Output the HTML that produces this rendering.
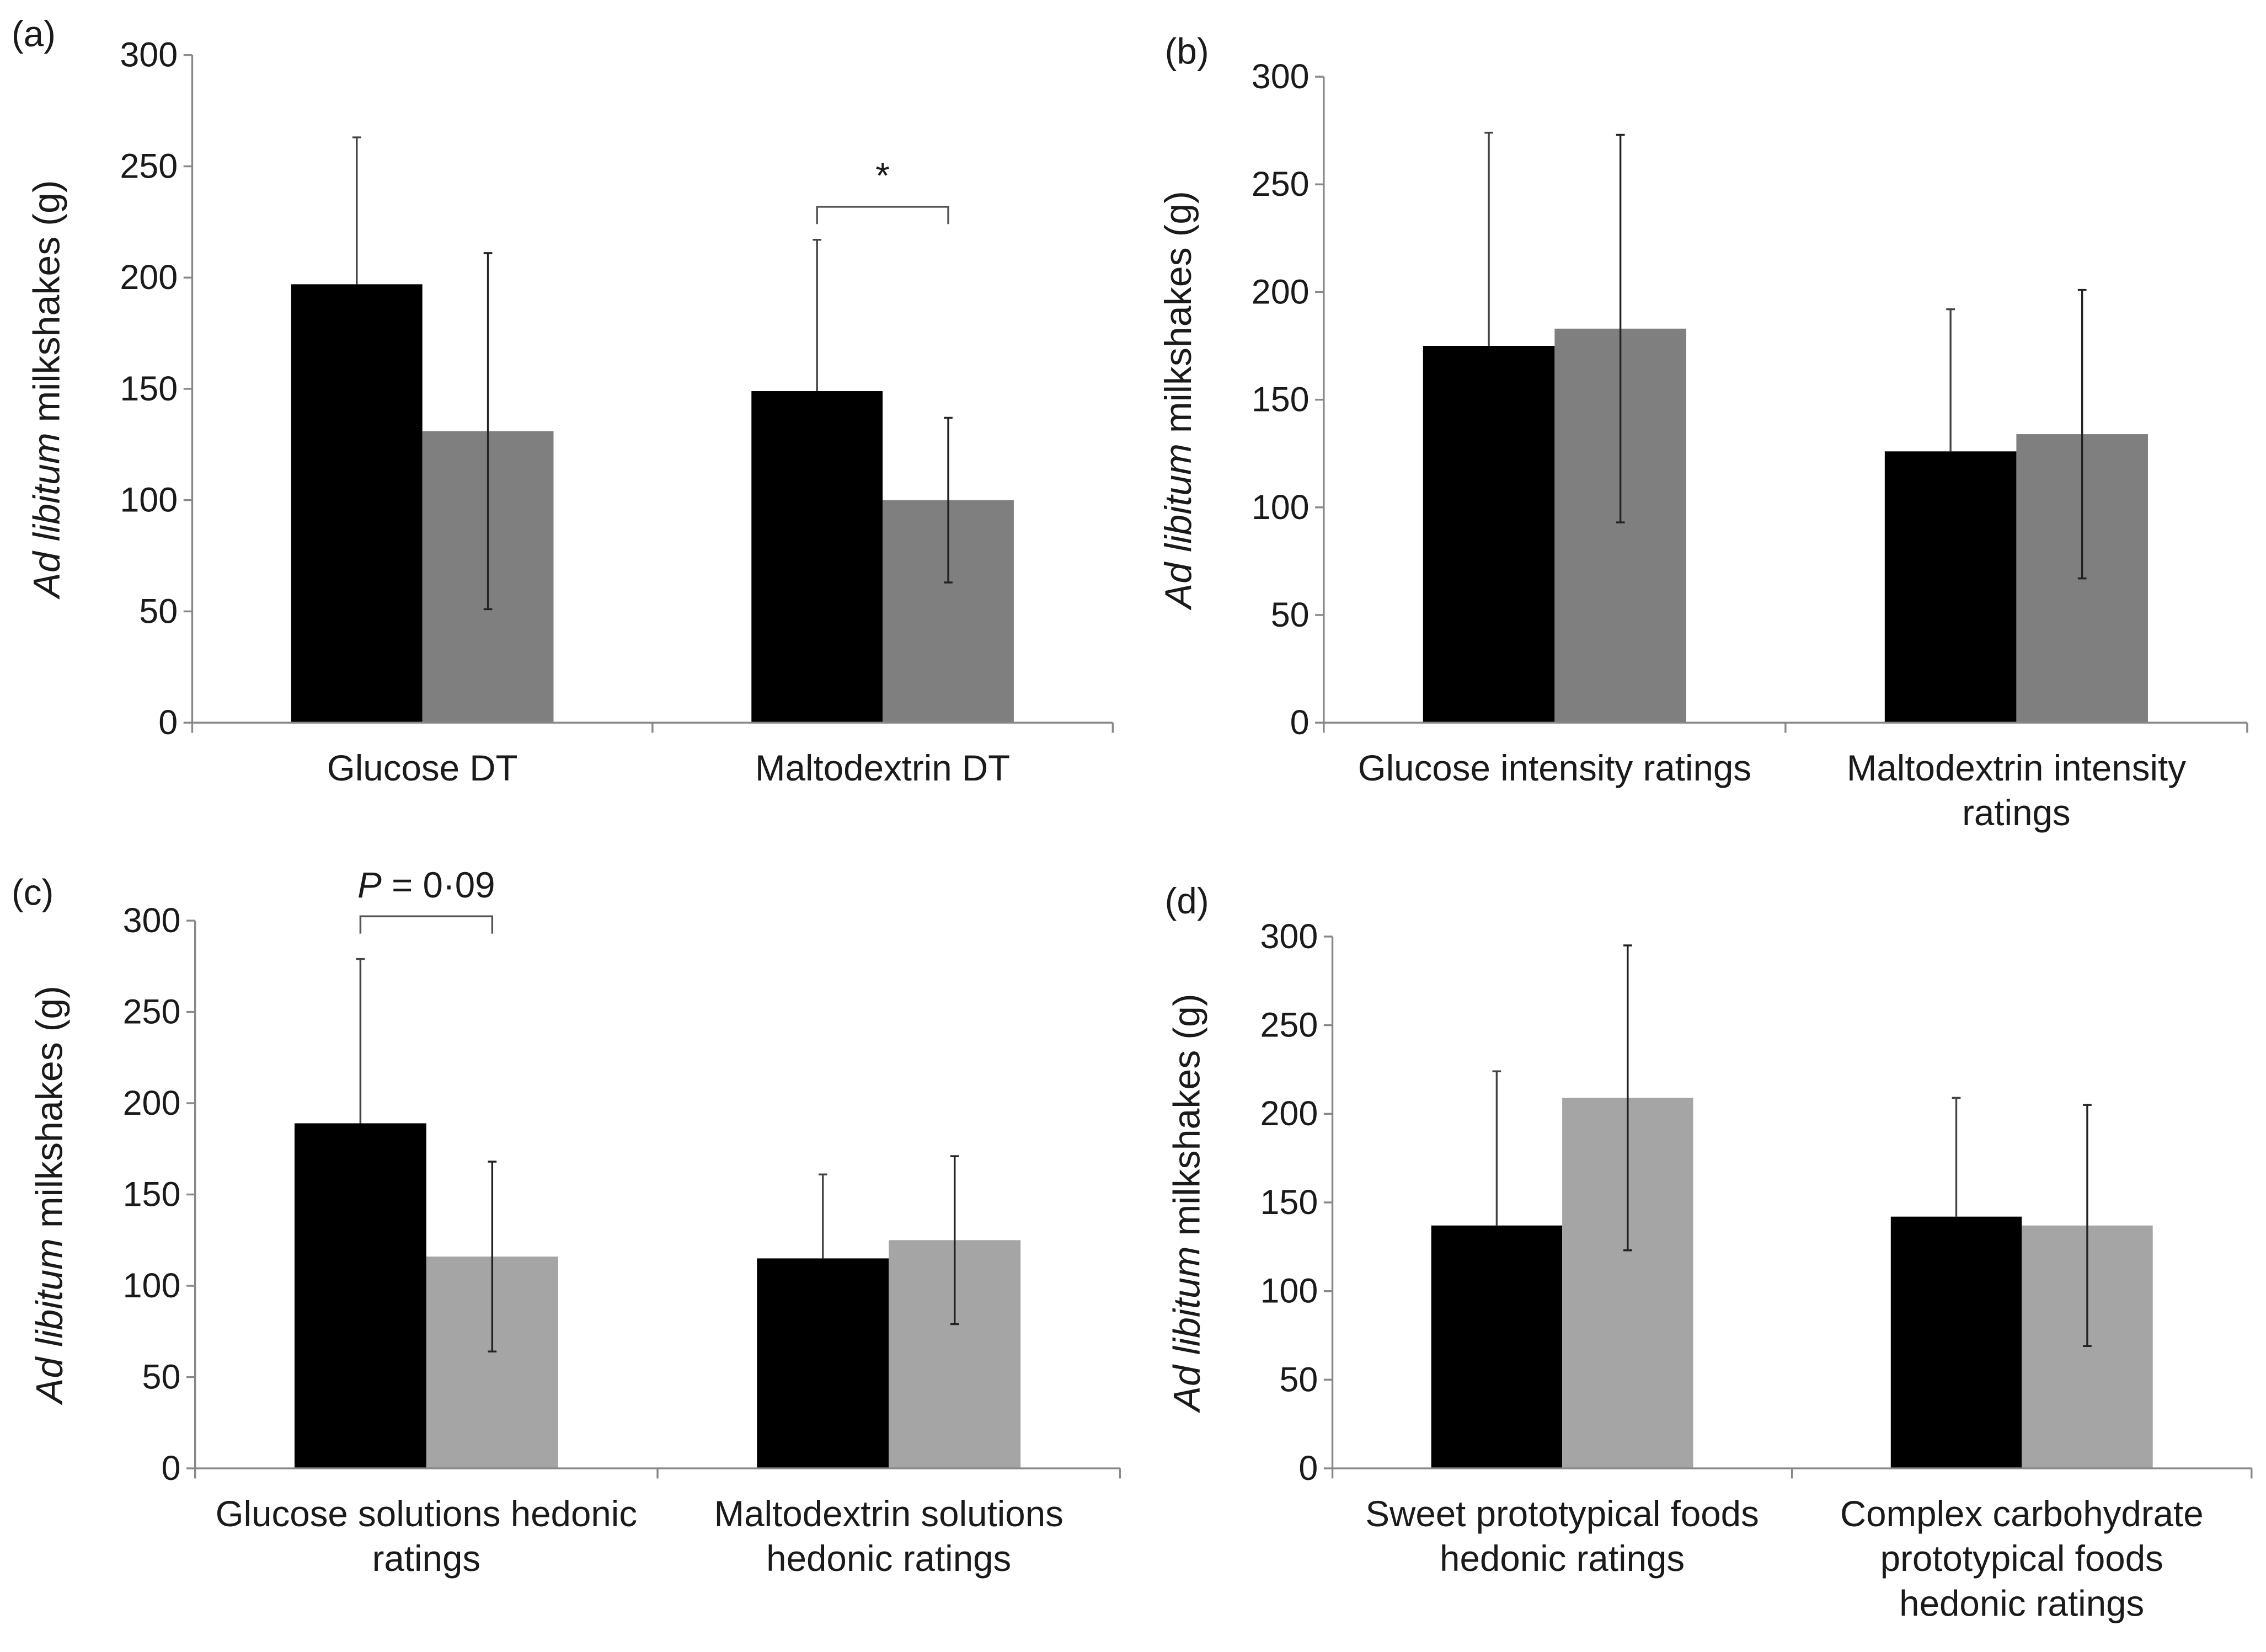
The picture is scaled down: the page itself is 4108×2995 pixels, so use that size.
<!DOCTYPE html>
<html><head><meta charset="utf-8"><style>
html,body{margin:0;padding:0;background:#fff;}
svg{display:block;}
text{font-family:"Liberation Sans",sans-serif;fill:#1a1a1a;}
</style></head><body>
<svg id="fig" width="4108" height="2995" viewBox="0 0 1568 1143" xmlns="http://www.w3.org/2000/svg"></svg>
<script>
const categoriesA = ["Glucose DT", "Maltodextrin DT"];
const blackA = [197, 149];
const blackErrA = [66, 68];
const greyA = [131, 100];
const greyErrA = [80, 37];

const categoriesB = ["Glucose intensity ratings", "Maltodextrin intensity|ratings"];
const blackB = [175, 126];
const blackErrB = [99, 66];
const greyB = [183, 134];
const greyErrB = [90, 67];

const categoriesC = ["Glucose solutions hedonic|ratings", "Maltodextrin solutions|hedonic ratings"];
const blackC = [189, 115];
const blackErrC = [90, 46];
const greyC = [116, 125];
const greyErrC = [52, 46];

const categoriesD = ["Sweet prototypical foods|hedonic ratings", "Complex carbohydrate|prototypical foods|hedonic ratings"];
const blackD = [137, 142];
const blackErrD = [87, 67];
const greyD = [209, 137];
const greyErrD = [86, 68];

const yTicks = [0, 50, 100, 150, 200, 250, 300];

const svg = document.getElementById('fig');
const NS = 'http://www.w3.org/2000/svg';
function mk(tag, attrs, parent) {
  const e = document.createElementNS(NS, tag);
  for (const k in attrs) e.setAttribute(k, attrs[k]);
  (parent || svg).appendChild(e);
  return e;
}

const panels = [
  {id:'a', cats:categoriesA, b:blackA, be:blackErrA, g:greyA, ge:greyErrA, gc:'#7f7f7f', x0:133, x1:770, yTop:38, yBot:500, lx:8, ly:32},
  {id:'b', cats:categoriesB, b:blackB, be:blackErrB, g:greyB, ge:greyErrB, gc:'#7f7f7f', x0:916, x1:1555, yTop:53, yBot:500, lx:806, ly:44},
  {id:'c', cats:categoriesC, b:blackC, be:blackErrC, g:greyC, ge:greyErrC, gc:'#a5a5a5', x0:135, x1:775, yTop:637, yBot:1016, lx:8, ly:626},
  {id:'d', cats:categoriesD, b:blackD, be:blackErrD, g:greyD, ge:greyErrD, gc:'#a5a5a5', x0:922, x1:1558, yTop:648, yBot:1016, lx:806, ly:632}
];

panels.forEach(p => {
  const grp = mk('g', {});
  
  
  const yS = v => p.yBot - (v / 300) * (p.yBot - p.yTop);
  const n = p.cats.length;
  const slot = (p.x1 - p.x0) / n;
  const barW = slot * 0.285;
  const lab = mk('text', {x:p.lx, y:p.ly, 'font-size':25}, grp);
  lab.textContent = '(' + p.id + ')';
  
  
  const cy = (p.yTop + p.yBot) / 2;
  const yt = mk('text', {x:0, y:0, 'font-size':26, 'text-anchor':'middle', transform:`translate(${p.x0 - 92},${cy}) rotate(-90)`}, grp);
  yt.innerHTML = '<tspan font-style="italic">Ad libitum</tspan> milkshakes (g)';
  
  
  for (let i = 0; i < n; i++) {
    const cx = p.x0 + slot * (i + 0.5);
    const bx = cx - barW, gx = cx;
    const b = mk('rect', {x:bx, y:yS(p.b[i]), width:barW, height:p.yBot - yS(p.b[i]), fill:'#000'}, grp);
    
    
    const g = mk('rect', {x:gx, y:yS(p.g[i]), width:barW, height:p.yBot - yS(p.g[i]), fill:p.gc}, grp);
    
    
    const ex = bx + barW / 2;
    const e1 = mk('path', {d:`M${ex},${yS(p.b[i])}V${yS(p.b[i] + p.be[i])}M${ex-3},${yS(p.b[i] + p.be[i])}H${ex+3}`, stroke:'#444', 'stroke-width':1.3, fill:'none'}, grp);
    
    
    const gxm = gx + barW / 2;
    const top = yS(p.g[i] + p.ge[i]), bot = yS(p.g[i] - p.ge[i]);
    const e2 = mk('path', {d:`M${gxm},${top}V${bot}M${gxm-3},${top}H${gxm+3}M${gxm-3},${bot}H${gxm+3}`, stroke:'#222', 'stroke-width':1.3, fill:'none'}, grp);
    
    
    const lines = p.cats[i].split('|');
    lines.forEach((ln, k) => {
      const t = mk('text', {x:cx, y:p.yBot + 40 + k * 31, 'font-size':25, 'text-anchor':'middle'}, grp);
      t.textContent = ln;
      
      
    });
  }
  const ax = mk('path', {d:`M${p.x0},${p.yTop}V${p.yBot}H${p.x1}`, stroke:'#888', 'stroke-width':1.3, fill:'none'}, grp);
  
  
  for (let i = 0; i <= n; i++) {
    const tx = p.x0 + slot * i;
    mk('line', {x1:tx, x2:tx, y1:p.yBot, y2:p.yBot + 7, stroke:'#888', 'stroke-width':1.3}, grp);
  }
  yTicks.forEach(v => {
    mk('line', {x1:p.x0 - 6, x2:p.x0, y1:yS(v), y2:yS(v), stroke:'#888', 'stroke-width':1.3}, grp);
    const t = mk('text', {x:p.x0 - 10, y:yS(v) + 8, 'font-size':24, 'text-anchor':'end'}, grp);
    t.textContent = v;
    
    
  });
  if (p.id === 'a' || p.id === 'c') {
    const i = p.id === 'a' ? 1 : 0;
    const cx = p.x0 + slot * (i + 0.5);
    const l = cx - barW / 2, r = cx + barW / 2;
    const yb = p.id === 'a' ? 143 : 634;
    const br = mk('path', {d:`M${l},${yb+12}V${yb}H${r}V${yb+12}`, stroke:'#555', 'stroke-width':1.3, fill:'none'}, grp);
    
    
    const st = mk('text', {x:(l + r) / 2, y:p.id === 'a' ? 130 : 621, 'font-size':25, 'text-anchor':'middle'}, grp);
    if (p.id === 'a') st.textContent = '*';
    else st.innerHTML = '<tspan font-style="italic">P</tspan> = 0·09';
    
    
  }
});
</script>
</body></html>
